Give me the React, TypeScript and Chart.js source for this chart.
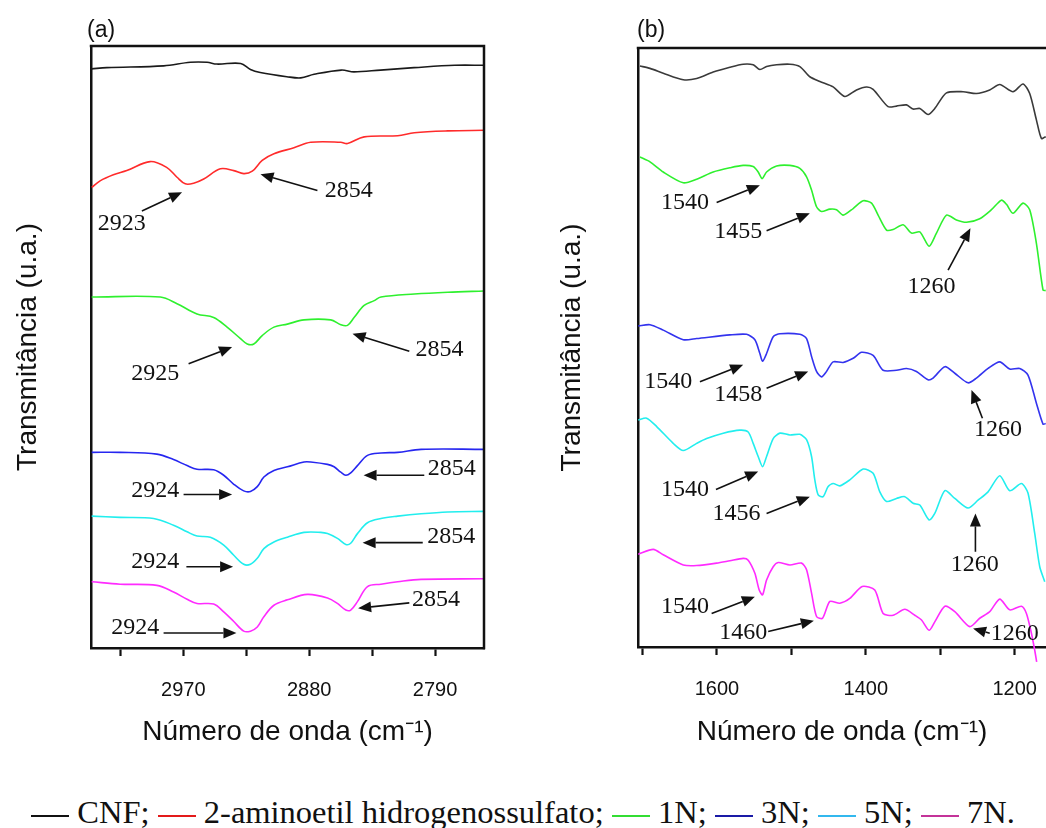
import React, { useEffect, useRef } from 'react';
import { Chart, registerables } from 'chart.js';

Chart.register(...registerables);

const SANS = '"Liberation Sans", Arial, sans-serif';
const SERIF = '"Liberation Serif", "Times New Roman", serif';

// ---------- Panel (a): 3040–2750 cm-1 ----------
const A_MIN = 2755;
const A_MAX = 3036;
const A_STEP = 45;
const A_TICK_LABELS = [2970, 2880, 2790];

const A_CNF_X = [3035.5, 3024.7, 2984, 2965, 2953, 2946, 2929, 2922, 2915, 2896, 2886, 2876.5, 2857, 2848, 2829, 2805, 2776, 2754.6];
const A_CNF_Y = [96.2, 96.4, 96.7, 97.3, 97.3, 97.0, 97.1, 96.1, 95.6, 94.9, 94.7, 95.3, 96.0, 95.7, 96.0, 96.4, 96.8, 96.8];

const A_AES_X = [3035.5, 3029.5, 3020, 3010.4, 2993.7, 2981.7, 2974.5, 2968.6, 2962.6, 2955.4, 2943.5, 2933.9, 2926.8, 2920.7, 2913.6, 2905.2, 2890.9, 2878.9, 2857.4, 2852.6, 2840.7, 2816.7, 2804.8, 2780.9, 2754.6];
const A_AES_Y = [76.5, 77.6, 78.6, 79.3, 80.8, 79.8, 78.2, 77.1, 77.2, 77.9, 79.6, 79.3, 78.8, 79.2, 81.0, 82.1, 83.1, 84.0, 84.0, 83.8, 84.9, 85.1, 85.6, 85.9, 86.0];

const A_1N_X = [3035.5, 2986.5, 2974.5, 2960.2, 2948.3, 2938.7, 2929.1, 2924.3, 2919.6, 2913.6, 2905.2, 2895.6, 2883.7, 2864.6, 2857.4, 2852.6, 2847.9, 2840.7, 2833.5, 2828.7, 2804.8, 2780.9, 2754.6];
const A_1N_Y = [58.3, 58.3, 57.2, 55.5, 54.9, 53.3, 51.4, 50.5, 50.5, 51.9, 53.3, 53.8, 54.5, 54.5, 53.7, 53.6, 54.9, 56.9, 57.7, 58.3, 58.8, 59.1, 59.3];

const A_3N_X = [3035.5, 3015.2, 2988.9, 2977.0, 2967.3, 2960.2, 2948.3, 2941.1, 2933.9, 2926.8, 2922.0, 2917.1, 2912.4, 2905.2, 2895.6, 2883.7, 2878.9, 2866.9, 2862.2, 2857.4, 2853.8, 2850.3, 2845.5, 2838.3, 2828.7, 2816.7, 2800.0, 2754.6];
const A_3N_Y = [32.5, 32.5, 32.2, 31.3, 30.3, 29.7, 29.6, 28.7, 27.2, 26.1, 26.0, 26.8, 28.4, 29.5, 30.1, 30.9, 30.9, 30.5, 30.1, 29.2, 28.7, 29.1, 30.3, 32.0, 32.4, 32.5, 33.0, 33.0];

const A_5N_X = [3035.5, 3015.2, 2991.2, 2977.0, 2967.3, 2960.2, 2950.7, 2941.1, 2933.9, 2926.8, 2922.0, 2917.1, 2912.4, 2905.2, 2895.6, 2883.7, 2871.7, 2866.9, 2859.8, 2853.8, 2850.3, 2845.5, 2838.3, 2828.7, 2816.7, 2800.0, 2780.9, 2754.6];
const A_5N_Y = [21.9, 21.7, 21.5, 20.4, 19.3, 18.6, 18.4, 17.1, 15.4, 13.9, 13.9, 14.9, 16.5, 17.6, 18.4, 19.2, 19.2, 19.0, 18.2, 17.2, 17.4, 19.0, 20.8, 21.5, 21.9, 22.3, 22.6, 22.7];

const A_7N_X = [3035.5, 3015.2, 2988.9, 2977.0, 2967.3, 2960.2, 2948.3, 2941.1, 2933.9, 2926.8, 2922.0, 2917.1, 2912.4, 2905.2, 2895.6, 2881.3, 2866.9, 2859.8, 2853.8, 2850.3, 2845.5, 2838.3, 2828.7, 2816.7, 2800.0, 2754.6];
const A_7N_Y = [11.0, 10.6, 10.4, 9.3, 8.1, 7.4, 7.3, 6.0, 4.4, 2.8, 2.8, 3.5, 5.2, 7.1, 8.0, 8.9, 8.3, 7.4, 6.3, 6.3, 7.7, 10.2, 10.6, 11.0, 11.4, 11.5];

// [label, textX, textY, arrowFromX, arrowFromY, arrowToX, arrowToY]
const A_NOTES: [string, number, number, number, number, number, number][] = [
  ['2923', 3014.0, 70.5, 2999.6, 72.6, 2970.9, 75.7],
  ['2854', 2851.7, 76.0, 2874.1, 76.0, 2914.8, 78.7],
  ['2925', 2990.1, 45.6, 2966.2, 47.2, 2935.1, 50.0],
  ['2854', 2786.9, 49.5, 2808.4, 49.3, 2849.0, 52.2],
  ['2924', 2990.1, 26.2, 2969.8, 25.5, 2935.1, 25.5],
  ['2854', 2778.0, 29.8, 2797.7, 28.7, 2841.1, 28.7],
  ['2924', 2990.1, 14.3, 2967.8, 13.5, 2934.4, 13.5],
  ['2854', 2778.5, 18.5, 2798.8, 17.5, 2841.8, 17.5],
  ['2924', 3004.4, 3.3, 2984.1, 2.5, 2932.0, 2.5],
  ['2854', 2789.3, 8.1, 2808.4, 7.5, 2845.0, 6.6],
];

// ---------- Panel (b): 1706–1158 cm-1 ----------
const B_MIN = 1158;
const B_MAX = 1706;
const B_STEP = 100;
const B_TICK_LABELS = [1600, 1400, 1200];

const B_CNF_X = [1703.4, 1689.9, 1672.1, 1645.2, 1627.2, 1605.0, 1582.6, 1564.7, 1551.3, 1542.3, 1533.3, 1519.9, 1502.0, 1488.6, 1475.2, 1461.7, 1443.9, 1428.2, 1412.5, 1399.1, 1390.2, 1370.1, 1358.8, 1345.4, 1336.5, 1327.5, 1316.4, 1307.4, 1291.7, 1269.4, 1251.4, 1233.6, 1220.1, 1202.3, 1188.9, 1179.9, 1170.9, 1164.2, 1158.4];
const B_CNF_Y = [97.0, 96.6, 95.8, 94.7, 94.9, 96.0, 96.8, 97.3, 97.2, 96.4, 96.9, 97.2, 97.3, 96.9, 95.2, 94.4, 93.5, 91.9, 93.0, 93.5, 93.1, 90.2, 90.3, 90.5, 89.8, 89.9, 88.9, 89.9, 92.5, 92.7, 92.4, 93.0, 93.9, 92.7, 94.0, 92.4, 88.0, 84.9, 85.2];

const B_1N_X = [1703.4, 1689.9, 1672.1, 1645.2, 1627.2, 1605.0, 1582.6, 1564.7, 1551.3, 1544.6, 1539.2, 1533.3, 1519.9, 1502.0, 1488.6, 1479.6, 1472.9, 1466.2, 1459.5, 1448.3, 1439.3, 1430.5, 1417.0, 1403.6, 1392.3, 1383.5, 1372.2, 1363.4, 1349.9, 1338.7, 1327.5, 1315.0, 1305.1, 1291.7, 1278.3, 1264.8, 1247.0, 1231.3, 1217.9, 1211.1, 1202.3, 1188.9, 1179.9, 1170.9, 1162.0, 1158.4];
const B_1N_Y = [81.8, 81.0, 79.3, 77.5, 78.1, 79.3, 80.0, 80.4, 80.2, 79.3, 78.2, 79.3, 80.3, 80.4, 79.9, 78.5, 76.3, 73.5, 72.7, 73.1, 73.0, 72.1, 73.2, 74.5, 74.1, 72.1, 69.6, 69.7, 70.5, 69.1, 69.3, 66.9, 69.1, 72.1, 71.3, 70.9, 71.5, 73.0, 74.6, 73.9, 72.4, 74.1, 73.0, 67.4, 59.6, 59.5];

const B_3N_X = [1705.6, 1689.9, 1672.1, 1645.2, 1627.2, 1582.6, 1560.1, 1549.0, 1542.3, 1538.7, 1533.3, 1524.4, 1515.4, 1488.6, 1479.6, 1472.9, 1466.2, 1459.5, 1452.8, 1443.9, 1430.5, 1417.0, 1405.8, 1390.2, 1376.8, 1358.8, 1345.4, 1332.0, 1316.4, 1309.7, 1293.8, 1280.5, 1262.7, 1251.4, 1235.8, 1220.1, 1206.7, 1193.3, 1182.2, 1170.9, 1162.0, 1158.4];
const B_3N_Y = [53.6, 53.8, 52.9, 51.3, 51.5, 52.1, 52.2, 51.3, 49.0, 47.7, 49.0, 51.8, 52.3, 52.2, 51.5, 48.5, 46.0, 45.1, 46.0, 47.6, 47.5, 48.2, 49.2, 48.7, 46.2, 46.2, 46.5, 46.0, 44.6, 44.9, 46.8, 45.7, 44.1, 44.9, 46.5, 47.6, 46.4, 46.5, 45.4, 40.7, 37.2, 37.3];

const B_5N_X = [1705.6, 1694.4, 1680.9, 1658.7, 1645.2, 1627.2, 1613.8, 1591.5, 1569.1, 1558.0, 1551.3, 1544.6, 1538.7, 1533.3, 1524.4, 1515.4, 1502.0, 1488.6, 1479.6, 1472.9, 1468.5, 1464.0, 1457.3, 1450.6, 1443.9, 1434.9, 1421.5, 1403.6, 1390.2, 1381.2, 1372.2, 1358.8, 1347.7, 1336.5, 1327.5, 1315.0, 1307.4, 1293.8, 1280.5, 1262.7, 1249.3, 1235.8, 1220.1, 1206.7, 1191.0, 1182.2, 1173.2, 1166.4, 1159.7];
const B_5N_Y = [37.9, 38.2, 36.8, 34.0, 32.8, 34.0, 34.8, 35.7, 36.2, 35.9, 34.0, 31.8, 30.1, 31.8, 34.8, 35.7, 35.4, 35.5, 34.6, 31.8, 27.9, 25.4, 25.1, 26.8, 27.3, 26.9, 27.9, 29.7, 29.0, 25.9, 24.3, 24.8, 25.1, 24.0, 23.7, 21.2, 22.3, 26.1, 24.8, 23.2, 24.5, 25.9, 28.6, 26.1, 27.3, 25.7, 19.0, 13.4, 10.9];

const B_7N_X = [1705.6, 1685.5, 1672.1, 1645.2, 1627.2, 1600.4, 1582.6, 1564.7, 1558.0, 1549.0, 1543.2, 1538.7, 1533.3, 1524.4, 1517.7, 1502.0, 1486.3, 1479.6, 1472.9, 1466.2, 1458.1, 1448.3, 1434.9, 1421.5, 1404.9, 1388.0, 1376.8, 1363.4, 1347.7, 1334.2, 1325.2, 1315.0, 1307.4, 1293.8, 1280.5, 1260.4, 1247.0, 1233.6, 1220.1, 1206.7, 1191.0, 1184.3, 1177.6, 1173.2, 1170.5];
const B_7N_Y = [15.5, 16.3, 15.4, 13.7, 13.6, 14.0, 14.4, 14.8, 14.5, 12.3, 9.5, 8.7, 11.2, 13.4, 14.1, 13.7, 14.0, 12.9, 9.0, 5.1, 4.8, 7.6, 7.3, 8.1, 10.1, 9.5, 5.6, 5.3, 6.3, 5.3, 4.5, 2.8, 4.2, 6.8, 5.9, 3.4, 4.8, 5.9, 8.0, 6.2, 6.8, 5.6, 2.3, -0.5, -2.5];

const B_NOTES: [string, number, number, number, number, number, number][] = [
  ['1540', 1643.0, 74.1, 1600.4, 74.2, 1542.3, 77.1],
  ['1455', 1571.4, 69.3, 1533.3, 69.5, 1475.2, 72.4],
  ['1260', 1311.8, 60.2, 1289.5, 62.9, 1259.5, 69.9],
  ['1540', 1665.4, 44.3, 1622.8, 44.3, 1564.7, 47.1],
  ['1458', 1571.4, 42.2, 1533.3, 43.2, 1477.4, 46.0],
  ['1260', 1222.4, 36.2, 1243.4, 38.2, 1258.1, 42.9],
  ['1540', 1643.0, 26.2, 1601.3, 26.3, 1544.6, 29.3],
  ['1456', 1573.6, 22.3, 1533.3, 22.3, 1475.2, 25.1],
  ['1260', 1253.7, 13.7, 1252.8, 15.9, 1252.8, 22.3],
  ['1540', 1643.0, 6.7, 1607.1, 5.6, 1549.0, 8.4],
  ['1460', 1564.7, 2.4, 1531.1, 2.6, 1469.8, 4.4],
  ['1260', 1200.0, 2.3, 1233.6, 2.3, 1256.0, 3.1],
];

// ---------- text & colours ----------
const SERIES_NAMES = ['CNF', '2-aminoetil hidrogenossulfato', '1N', '3N', '5N', '7N'];
const COLORS_A = ['#1a1a1a', '#ff2b2b', '#2ef02e', '#2626f0', '#22eeee', '#ff2bff'];
const COLORS_B = ['#3a3a3a', '#2ef02e', '#3333ee', '#22eeee', '#ff2bff'];
const LEGEND_COLORS = ['#111111', '#e31a1a', '#33dd33', '#1a1aa6', '#33b8ee', '#c43399'];
const X_TITLE = 'Número de onda (cm⁻¹)';
const Y_TITLE = 'Transmitância (u.a.)';

const zip = (xs: number[], ys: number[]) => xs.map((x, i) => ({ x, y: ys[i] }));

const notesPlugin = (notes: [string, number, number, number, number, number, number][]) => ({
  id: 'arrowNotes',
  afterDatasetsDraw(chart: any) {
    const { ctx } = chart;
    const xs = chart.scales.x;
    const ys = chart.scales.y;
    ctx.save();
    ctx.fillStyle = '#111';
    ctx.strokeStyle = '#111';
    ctx.font = `24px ${SERIF}`;
    ctx.textAlign = 'center';
    ctx.textBaseline = 'middle';
    for (const [t, tx, ty, fx, fy, ex, ey] of notes) {
      ctx.fillText(t, xs.getPixelForValue(tx), ys.getPixelForValue(ty));
      const x1 = xs.getPixelForValue(fx);
      const y1 = ys.getPixelForValue(fy);
      const x2 = xs.getPixelForValue(ex);
      const y2 = ys.getPixelForValue(ey);
      const ang = Math.atan2(y2 - y1, x2 - x1);
      const head = 13;
      const hw = 5.5;
      const bx = x2 - head * Math.cos(ang);
      const by = y2 - head * Math.sin(ang);
      ctx.lineWidth = 1.6;
      ctx.beginPath();
      ctx.moveTo(x1, y1);
      ctx.lineTo(bx, by);
      ctx.stroke();
      ctx.beginPath();
      ctx.moveTo(x2, y2);
      ctx.lineTo(bx + hw * Math.sin(ang), by - hw * Math.cos(ang));
      ctx.lineTo(bx - hw * Math.sin(ang), by + hw * Math.cos(ang));
      ctx.closePath();
      ctx.fill();
    }
    ctx.restore();
  },
});

const framePlugin = (withRight: boolean) => ({
  id: 'frame',
  afterDraw(chart: any) {
    const { ctx, chartArea } = chart;
    const { left, right, top, bottom } = chartArea;
    ctx.save();
    ctx.strokeStyle = '#111';
    ctx.lineWidth = 2.5;
    ctx.beginPath();
    ctx.moveTo(left - 1.25, top);
    ctx.lineTo(withRight ? right : right + 4, top);
    if (withRight) ctx.lineTo(right, bottom + 1.25);
    ctx.stroke();
    ctx.restore();
  },
});

function buildConfig(p: any) {
  return {
    type: 'line',
    data: {
      datasets: p.series.map((s: any) => ({
        label: s.name,
        data: zip(s.x, s.y),
        borderColor: s.color,
        borderWidth: 1.6,
        pointRadius: 0,
        tension: p.tension,
        fill: false,
        ...(s.noClip ? { clip: false } : {}),
      })),
    },
    options: {
      responsive: false,
      animation: false,
      devicePixelRatio: 1,
      events: [],
      layout: { padding: { top: p.padTop, right: p.padRight, left: 0, bottom: 0 } },
      plugins: { legend: { display: false }, tooltip: { enabled: false } },
      scales: {
        x: {
          type: 'linear',
          reverse: true,
          min: p.min,
          max: p.max,
          afterFit: (sc: any) => {
            sc.height = p.xAxisH;
            sc.paddingLeft = 0;
            sc.paddingRight = 0;
          },
          border: { display: true, color: '#111', width: 2.5 },
          grid: { display: true, drawOnChartArea: false, drawTicks: true, tickLength: 8, tickWidth: 2.2, tickColor: '#111' },
          ticks: {
            stepSize: p.step,
            includeBounds: false,
            autoSkip: false,
            maxRotation: 0,
            padding: 22,
            color: '#111',
            font: { family: SANS, size: 20 },
            callback: (v: number) => (p.tickLabels.includes(Math.round(v)) ? String(Math.round(v)) : ''),
          },
          title: {
            display: true,
            text: X_TITLE,
            color: '#111',
            font: { family: SANS, size: 28 },
            padding: { top: 0, bottom: 21 },
          },
        },
        y: {
          type: 'linear',
          min: 0,
          max: 100,
          afterFit: (sc: any) => {
            sc.width = p.yAxisW;
            sc.paddingTop = 0;
            sc.paddingBottom = 0;
          },
          border: { display: true, color: '#111', width: 2.5 },
          grid: { display: false },
          ticks: { display: false },
          title: {
            display: true,
            text: Y_TITLE,
            color: '#111',
            font: { family: SANS, size: 28 },
            padding: { top: p.yTitlePad, bottom: 0 },
          },
        },
      },
    },
    plugins: [framePlugin(p.frameRight), notesPlugin(p.notes)],
  };
}

const CONFIG_A = () => buildConfig({
  min: A_MIN, max: A_MAX, step: A_STEP, tickLabels: A_TICK_LABELS, tension: 0.35,
  padTop: 46, padRight: 36, xAxisH: 122, yAxisW: 91, yTitlePad: 11, frameRight: true, notes: A_NOTES,
  series: [
    { name: SERIES_NAMES[0], x: A_CNF_X, y: A_CNF_Y, color: COLORS_A[0] },
    { name: SERIES_NAMES[1], x: A_AES_X, y: A_AES_Y, color: COLORS_A[1] },
    { name: SERIES_NAMES[2], x: A_1N_X, y: A_1N_Y, color: COLORS_A[2] },
    { name: SERIES_NAMES[3], x: A_3N_X, y: A_3N_Y, color: COLORS_A[3] },
    { name: SERIES_NAMES[4], x: A_5N_X, y: A_5N_Y, color: COLORS_A[4] },
    { name: SERIES_NAMES[5], x: A_7N_X, y: A_7N_Y, color: COLORS_A[5] },
  ],
});

const CONFIG_B = () => buildConfig({
  min: B_MIN, max: B_MAX, step: B_STEP, tickLabels: B_TICK_LABELS, tension: 0.25,
  padTop: 48, padRight: 0, xAxisH: 123, yAxisW: 98, yTitlePad: 15, frameRight: false, notes: B_NOTES,
  series: [
    { name: SERIES_NAMES[0], x: B_CNF_X, y: B_CNF_Y, color: COLORS_B[0] },
    { name: SERIES_NAMES[2], x: B_1N_X, y: B_1N_Y, color: COLORS_B[1] },
    { name: SERIES_NAMES[3], x: B_3N_X, y: B_3N_Y, color: COLORS_B[2] },
    { name: SERIES_NAMES[4], x: B_5N_X, y: B_5N_Y, color: COLORS_B[3] },
    { name: SERIES_NAMES[5], x: B_7N_X, y: B_7N_Y, color: COLORS_B[4], noClip: true },
  ],
});

export default function App() {
  const aRef = useRef<HTMLCanvasElement>(null);
  const bRef = useRef<HTMLCanvasElement>(null);

  useEffect(() => {
    const ca = new Chart(aRef.current as HTMLCanvasElement, CONFIG_A() as any);
    const cb = new Chart(bRef.current as HTMLCanvasElement, CONFIG_B() as any);
    return () => {
      ca.destroy();
      cb.destroy();
    };
  }, []);

  const panelLabel = (left: number): React.CSSProperties => ({
    position: 'absolute', left, top: 18, font: `23px ${SANS}`, lineHeight: '23px', color: '#111',
  });

  return (
    <div style={{ position: 'fixed', left: 0, top: 0, width: 1046, height: 828, overflow: 'hidden', background: '#fff' }}>
      <canvas ref={aRef} width={520} height={770} style={{ position: 'absolute', left: 0, top: 0 }} />
      <canvas ref={bRef} width={506} height={770} style={{ position: 'absolute', left: 540, top: 0 }} />
      <div style={panelLabel(87)}>(a)</div>
      <div style={panelLabel(637)}>(b)</div>
      <div
        style={{
          position: 'absolute', left: 0, top: 796, width: 1046, textAlign: 'center',
          font: `32.5px ${SERIF}`, lineHeight: '32px', whiteSpace: 'nowrap', color: '#111',
        }}
      >
        {SERIES_NAMES.map((n, i) => (
          <span key={n}>
            {i > 0 ? ' ' : ''}
            <span
              style={{
                display: 'inline-block', width: 38, height: 0, borderTop: `2px solid ${LEGEND_COLORS[i]}`,
                verticalAlign: 'middle',
              }}
            />
            {' '}{n}{i < SERIES_NAMES.length - 1 ? ';' : '.'}
          </span>
        ))}
      </div>
    </div>
  );
}
